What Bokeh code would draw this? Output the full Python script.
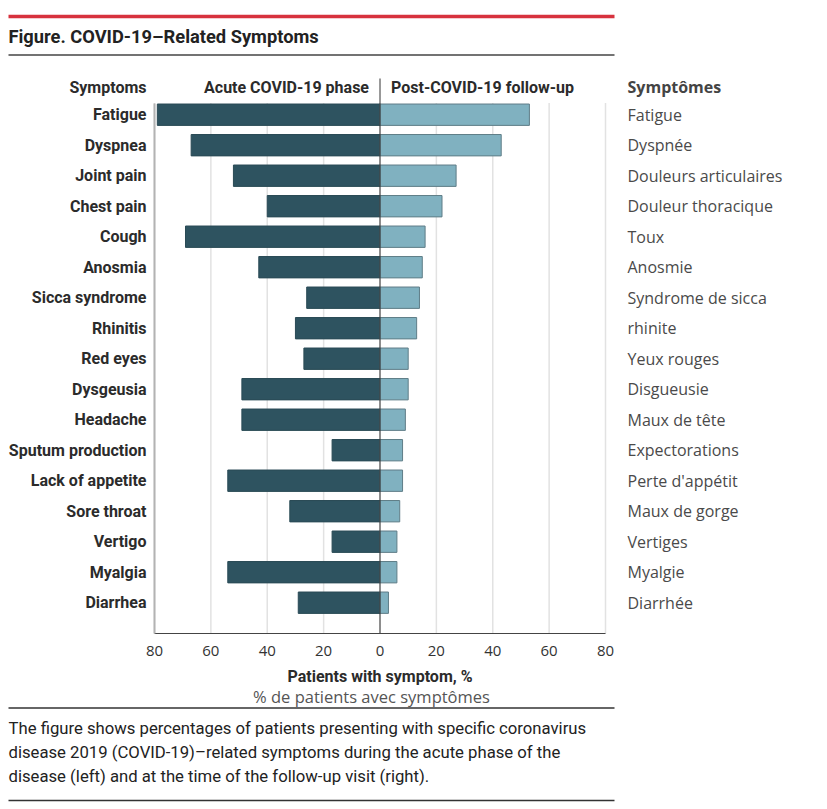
from bokeh.plotting import figure
from bokeh.models import Range1d, FixedTicker, LinearAxis, ColumnDataSource, CustomJSTickFormatter
from bokeh.core.properties import value
from bokeh.embed import file_html
from bokeh.resources import INLINE

# ---------------- data ----------------
symptoms = ["Fatigue", "Dyspnea", "Joint pain", "Chest pain", "Cough", "Anosmia",
            "Sicca syndrome", "Rhinitis", "Red eyes", "Dysgeusia", "Headache",
            "Sputum production", "Lack of appetite", "Sore throat", "Vertigo",
            "Myalgia", "Diarrhea"]
symptomes_fr = ["Fatigue", "Dyspnée", "Douleurs articulaires", "Douleur thoracique", "Toux",
                "Anosmie", "Syndrome de sicca", "rhinite", "Yeux rouges", "Disgueusie",
                "Maux de tête", "Expectorations", "Perte d'appétit", "Maux de gorge",
                "Vertiges", "Myalgie", "Diarrhée"]
acute = [79, 67, 52, 40, 69, 43, 26, 30, 27, 49, 49, 17, 54, 32, 17, 54, 29]
followup = [53, 43, 27, 22, 16, 15, 14, 13, 10, 10, 9, 8, 8, 7, 6, 6, 3]
x_ticks = [-80, -60, -40, -20, 0, 20, 40, 60, 80]

title_text = "Figure. COVID-19\u2013Related Symptoms"
header_left = "Symptoms"
header_acute = "Acute COVID-19 phase"
header_post = "Post-COVID-19 follow-up"
header_fr = "Symptômes"
xlabel_en = "Patients with symptom, %"
xlabel_fr = "% de patients avec symptômes"
caption = ["The figure shows percentages of patients presenting with specific coronavirus",
           "disease 2019 (COVID-19)\u2013related symptoms during the acute phase of the",
           "disease (left) and at the time of the follow-up visit (right)."]

# ---------------- layout geometry (pixels) ----------------
W, H = 827, 809
FL, FR, FT, FB = 154, 605, 102.5, 633     # chart area edges
ROW = 30.5                                # pixels per category row
ROW0 = 114.2                              # centre of the first row
XMIN, XMAX = -80, 80
KX = (XMAX - XMIN) / (FR - FL)            # data units per pixel


def dx(px):
    return XMIN + (px - FL) * KX


def dy(py):
    return (py - ROW0) / ROW


Y_TOP, Y_BOT = dy(FT), dy(FB)

LABEL_FONT = "Roboto"
FR_FONT = "Open Sans"
DARK = "#2e5360"
LIGHT = "#80b1c0"

idx = list(range(len(symptoms)))
src = ColumnDataSource(dict(y=idx, acute_left=[-a for a in acute], zero=[0] * len(idx), follow=followup))

p = figure(width=W, height=H, x_range=Range1d(dx(0), dx(W)), y_range=Range1d(dy(H), dy(0)),
           output_backend="svg", toolbar_location=None, min_border=0,
           x_axis_location=None, y_axis_location=None)
p.outline_line_color = None
p.grid.visible = False

# vertical grid lines over the chart area
p.segment(x0=x_ticks, y0=[Y_TOP] * len(x_ticks), x1=x_ticks, y1=[Y_BOT] * len(x_ticks),
          line_color="#e2e2e2", line_width=1.5)

p.hbar(y="y", left="acute_left", right="zero", height=0.7, source=src,
       fill_color=DARK, line_color="#2a4a55", line_width=1)
p.hbar(y="y", left="zero", right="follow", height=0.7, source=src,
       fill_color=LIGHT, line_color="#5f7d87", line_width=1)

# zero line (runs up through the column headers)
p.segment(x0=[0], y0=[dy(78)], x1=[0], y1=[Y_BOT], line_color="#333333", line_width=1)

# ---------------- axes ----------------
xa = LinearAxis(fixed_location=Y_BOT, bounds=(XMIN, XMAX), ticker=FixedTicker(ticks=x_ticks),
                formatter=CustomJSTickFormatter(code="return Math.abs(tick).toString()"))
xa.major_tick_line_color = None
xa.minor_tick_line_color = None
xa.major_tick_out = 0
xa.major_tick_in = 0
xa.axis_line_color = "#444444"
xa.axis_line_width = 1.2
xa.major_label_standoff = 12
xa.major_label_text_font = FR_FONT
xa.major_label_text_font_size = "15px"
xa.major_label_text_color = "#333333"
p.add_layout(xa, "below")

ya = LinearAxis(fixed_location=XMIN, bounds=(Y_TOP, Y_BOT), ticker=FixedTicker(ticks=idx),
                formatter=CustomJSTickFormatter(args=dict(labels=symptoms), code="return labels[Math.round(tick)]"))
ya.major_tick_line_color = None
ya.minor_tick_line_color = None
ya.major_tick_out = 0
ya.major_tick_in = 0
ya.axis_line_color = "#b3b3b3"
ya.axis_line_width = 2
ya.major_label_standoff = 8
ya.major_label_text_font = LABEL_FONT
ya.major_label_text_font_style = "bold"
ya.major_label_text_font_size = "16px"
ya.major_label_text_color = "#2b2b2b"
p.add_layout(ya, "left")

ra = LinearAxis(fixed_location=XMAX, bounds=(Y_TOP, Y_BOT), ticker=FixedTicker(ticks=idx),
                formatter=CustomJSTickFormatter(args=dict(labels=symptomes_fr), code="return labels[Math.round(tick)]"))
ra.major_tick_line_color = None
ra.minor_tick_line_color = None
ra.major_tick_out = 0
ra.major_tick_in = 0
ra.axis_line_color = None
ra.major_label_standoff = 22
ra.major_label_text_font = FR_FONT
ra.major_label_text_font_size = "16px"
ra.major_label_text_color = "#4a4a4a"
p.add_layout(ra, "right")


# ---------------- decorations ----------------
def rule(px1, px2, py, color, width):
    p.segment(x0=[dx(px1)], y0=[dy(py)], x1=[dx(px2)], y1=[dy(py)], line_color=color, line_width=width)


def label(px, py, text, align="left", baseline="middle", font=LABEL_FONT, size="16px",
          style="normal", color="#2b2b2b"):
    p.text(x=[dx(px)], y=[dy(py)], text=[text], text_align=align, text_baseline=baseline,
           text_font=value(font), text_font_size=size, text_font_style=style, text_color=color)


rule(8, 614, 16, "#d7323e", 3.5)
rule(8, 614, 54.5, "#444444", 1.5)
rule(8, 614, 707.5, "#333333", 1.5)
rule(8, 614, 800, "#333333", 1.5)

x0_px = FL - XMIN / KX
label(8, 36, title_text, size="18.3px", style="bold", color="#222222")
label(FL - 8, 87, header_left, align="right", style="bold")
label(x0_px - 11, 87, header_acute, align="right", style="bold")
label(x0_px + 11, 87, header_post, align="left", style="bold")
label(627, 86, header_fr, font=FR_FONT, style="bold", color="#444444")
label(x0_px, 676, xlabel_en, align="center", style="bold")
label(371, 696, xlabel_fr, align="center", font=FR_FONT, size="16.5px", color="#555555")
for i, line in enumerate(caption):
    label(8, 728 + 24 * i, line, size="16.7px", color="#222222")

open("out.html", "w").write(file_html(p, INLINE))
